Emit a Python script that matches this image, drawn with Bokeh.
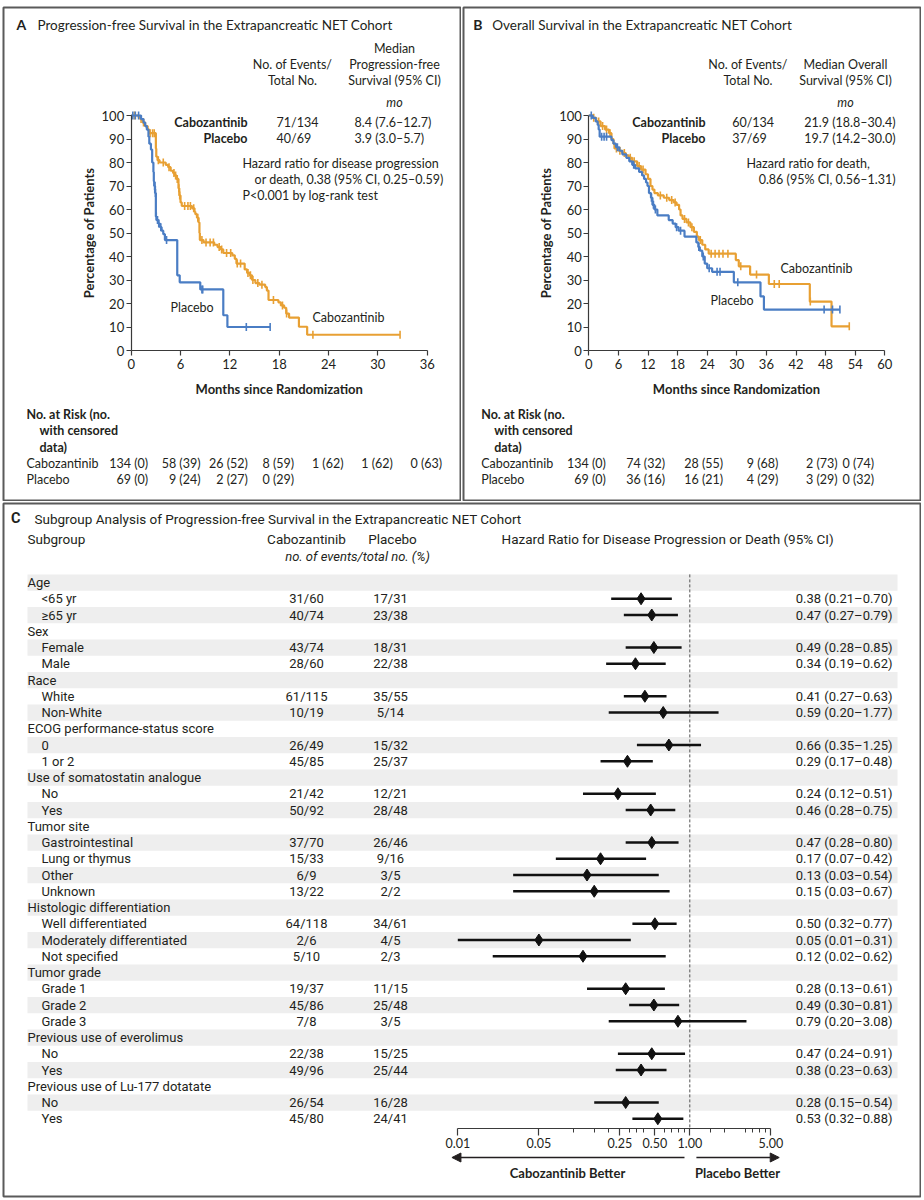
import numpy as np
from bokeh.plotting import figure
from bokeh.models import (Range1d, LinearAxis, LogAxis, FixedTicker, LinearScale,
                          PrintfTickFormatter, Arrow, NormalHead)
from bokeh.layouts import row, column
from bokeh.core.properties import value
from bokeh.embed import file_html
from bokeh.resources import INLINE

# ---------------- Panel A data: progression-free survival (Kaplan-Meier) ----------------
pfs_cabo_t = [0, 0.9, 1.1, 1.4, 1.7, 2.0, 2.2, 3.0, 3.05, 3.2, 3.45, 4.2, 4.5, 4.8, 5.1, 5.3, 5.5,
              5.75, 5.85, 6.0, 6.15, 7.4, 7.7, 7.8, 8.0, 8.2, 8.3, 8.35, 8.8, 10.1, 10.5, 10.9,
              11.2, 12.3, 12.6, 12.8, 13.8, 14.1, 14.4, 14.7, 15.1, 15.6, 16.3, 16.5, 16.7, 17.9,
              18.2, 18.6, 18.85, 19.2, 20.4, 21.4, 32.7]
pfs_cabo_s = [100, 99.3, 98.5, 97.0, 95.5, 94.0, 92.5, 86.0, 82.5, 81.0, 80.0, 79.0, 78.0, 76.5,
              75.5, 74.5, 73.0, 69.0, 66.0, 63.0, 61.5, 60.5, 59.0, 58.0, 56.5, 54.5, 50.0, 47.0,
              46.0, 45.0, 44.0, 43.0, 41.5, 40.5, 39.0, 37.0, 34.5, 33.0, 32.0, 30.0, 28.7, 28.0,
              27.0, 25.5, 21.5, 20.5, 19.2, 18.2, 15.7, 14.0, 10.1, 6.7, 6.7]
pfs_cabo_cens = [0.4, 1.2, 1.5, 2.3, 2.6, 2.8, 3.3, 3.9, 4.6, 5.2, 5.4, 5.6, 5.8, 5.9, 6.5, 6.9,
                 7.2, 7.6, 8.1, 8.6, 9.1, 9.6, 10.0, 10.7, 11.0, 11.6, 12.1, 12.9, 13.3, 14.2,
                 14.5, 14.8, 15.4, 15.9, 17.3, 18.4, 18.9, 22.1, 32.7]
pfs_plac_t = [0, 1.2, 1.5, 1.7, 1.9, 2.1, 2.2, 2.4, 2.55, 2.7, 2.75, 2.8, 2.9, 3.0, 3.1, 3.3, 3.5,
              3.7, 3.9, 4.1, 5.6, 5.9, 8.4, 11.2, 11.7, 16.9]
pfs_plac_s = [100, 98.5, 97.0, 95.5, 94.0, 91.0, 88.0, 85.5, 80.0, 76.0, 72.0, 70.0, 67.0, 57.0,
              55.5, 54.0, 52.5, 51.0, 49.5, 47.0, 32.0, 29.0, 26.0, 15.0, 10.0, 10.0]
pfs_plac_cens = [0.2, 0.5, 0.9, 2.85, 2.87, 2.95, 3.05, 3.2, 3.35, 3.6, 4.3, 8.6, 8.7, 14.0, 16.9]
pfs_risk_months = [0, 6, 12, 18, 24, 30, 36]
pfs_risk_cabo = ["134 (0)", "58 (39)", "26 (52)", "8 (59)", "1 (62)", "1 (62)", "0 (63)"]
pfs_risk_plac = ["69 (0)", "9 (24)", "2 (27)", "0 (29)"]
pfs_events = ["71/134", "40/69"]
pfs_median = ["8.4 (7.6\u201312.7)", "3.9 (3.0\u20135.7)"]

# ---------------- Panel B data: overall survival (Kaplan-Meier) ----------------
os_cabo_t = [0, 0.8, 1.5, 2.4, 3.3, 4.1, 4.6, 5.0, 5.2, 6.0, 6.8, 7.5, 8.1, 8.8, 9.8, 10.6, 11.5,
             12.0, 12.5, 12.9, 13.3, 14.0, 15.2, 16.3, 17.2, 17.8, 18.3, 18.6, 19.0, 19.8, 20.6,
             21.3, 21.9, 22.3, 23.0, 23.6, 24.3, 29.8, 30.4, 32.7, 36.5, 44.8, 49.2, 52.8]
os_cabo_s = [100, 99, 97.5, 95.5, 94, 92.5, 90, 88, 86, 85, 84, 83, 82, 80.5, 78.5, 77, 75, 73, 70,
             68.5, 67, 66, 65, 64, 63, 62, 60, 57.5, 56, 54.5, 52.5, 50.5, 48.5, 47, 45, 43, 41.2,
             38.5, 35.8, 32.3, 28.3, 20.8, 10.3, 10.3]
os_cabo_cens = [1.0, 2.0, 2.8, 3.6, 4.3, 5.6, 6.3, 7.2, 8.4, 9.2, 10.2, 11.0, 14.5, 15.8, 16.8,
                17.5, 19.4, 20.2, 20.9, 22.6, 24.8, 25.6, 26.4, 27.2, 28.2, 30.8, 34.0, 37.6,
                38.6, 44.9, 52.8]
os_plac_t = [0, 0.8, 1.4, 1.8, 2.0, 2.2, 4.6, 5.0, 5.5, 6.2, 6.8, 7.6, 8.2, 8.8, 9.4, 10.2, 10.8,
             11.2, 11.6, 11.9, 12.2, 12.6, 12.9, 13.3, 13.9, 16.2, 17.0, 17.6, 18.2, 19.4, 21.8,
             22.2, 22.5, 23.0, 23.5, 24.0, 25.0, 29.4, 34.8, 35.5, 50.9]
os_plac_s = [100, 99, 97.5, 96, 94, 91, 89.5, 88, 86.5, 85, 83.5, 82, 80.5, 79, 77.5, 76, 74.5, 73,
             71.5, 70, 67, 65, 62, 60, 57.5, 55.5, 54, 52.5, 51, 48.5, 46, 44, 42.5, 40, 37, 35,
             33.5, 29, 23, 17.4, 17.4]
os_plac_cens = [0.5, 2.6, 3.1, 3.6, 5.8, 9.1, 12.7, 13.1, 13.5, 17.8, 18.6, 22.3, 23.2, 24.4,
                26.0, 26.6, 30.2, 47.7, 49.4, 50.9]
os_risk_months = [0, 12, 24, 36, 48, 54]
os_risk_cabo = ["134 (0)", "74 (32)", "28 (55)", "9 (68)", "2 (73)", "0 (74)"]
os_risk_plac = ["69 (0)", "36 (16)", "16 (21)", "4 (29)", "3 (29)", "0 (32)"]
os_events = ["60/134", "37/69"]
os_median = ["21.9 (18.8\u201330.4)", "19.7 (14.2\u201330.0)"]

arm_names = ["Cabozantinib", "Placebo"]
pct_ticks = [0, 10, 20, 30, 40, 50, 60, 70, 80, 90, 100]

# ---------------- Panel C data: subgroup forest plot ----------------
sub_labels = ["Age", "<65 yr", "\u226565 yr", "Sex", "Female", "Male", "Race", "White", "Non-White",
              "ECOG performance-status score", "0", "1 or 2", "Use of somatostatin analogue", "No",
              "Yes", "Tumor site", "Gastrointestinal", "Lung or thymus", "Other", "Unknown",
              "Histologic differentiation", "Well differentiated", "Moderately differentiated",
              "Not specified", "Tumor grade", "Grade 1", "Grade 2", "Grade 3",
              "Previous use of everolimus", "No", "Yes", "Previous use of Lu-177 dotatate", "No", "Yes"]
sub_is_header = [True, False, False, True, False, False, True, False, False, True, False, False,
                 True, False, False, True, False, False, False, False, True, False, False, False,
                 True, False, False, False, True, False, False, True, False, False]
cabo_events = ["", "31/60", "40/74", "", "43/74", "28/60", "", "61/115", "10/19", "", "26/49",
               "45/85", "", "21/42", "50/92", "", "37/70", "15/33", "6/9", "13/22", "", "64/118",
               "2/6", "5/10", "", "19/37", "45/86", "7/8", "", "22/38", "49/96", "", "26/54", "45/80"]
plac_events = ["", "17/31", "23/38", "", "18/31", "22/38", "", "35/55", "5/14", "", "15/32",
               "25/37", "", "12/21", "28/48", "", "26/46", "9/16", "3/5", "2/2", "", "34/61", "4/5",
               "2/3", "", "11/15", "25/48", "3/5", "", "15/25", "25/44", "", "16/28", "24/41"]
hr = [None, 0.38, 0.47, None, 0.49, 0.34, None, 0.41, 0.59, None, 0.66, 0.29, None, 0.24, 0.46,
      None, 0.47, 0.17, 0.13, 0.15, None, 0.50, 0.05, 0.12, None, 0.28, 0.49, 0.79, None, 0.47,
      0.38, None, 0.28, 0.53]
hr_lo = [None, 0.21, 0.27, None, 0.28, 0.19, None, 0.27, 0.20, None, 0.35, 0.17, None, 0.12, 0.28,
         None, 0.28, 0.07, 0.03, 0.03, None, 0.32, 0.01, 0.02, None, 0.13, 0.30, 0.20, None, 0.24,
         0.23, None, 0.15, 0.32]
hr_hi = [None, 0.70, 0.79, None, 0.85, 0.62, None, 0.63, 1.77, None, 1.25, 0.48, None, 0.51, 0.75,
         None, 0.80, 0.42, 0.54, 0.67, None, 0.77, 0.31, 0.62, None, 0.61, 0.81, 3.08, None, 0.91,
         0.63, None, 0.54, 0.88]
hr_major_ticks = [0.01, 0.05, 0.25, 0.50, 1.00, 5.00]
hr_minor_ticks = [0.1, 0.15, 0.2, 0.3, 0.35, 0.4, 0.6, 0.7, 0.8, 0.9, 1.5, 2, 3, 3.5, 4, 4.5]

# ---------------- styles ----------------
LATO = value("Lato")
COND = value("Roboto")
INK = "#231f20"
AX = "#3a3a3a"
BORDER = "#5a5a5a"
ORANGE = "#e8a033"
BLUE = "#4a7dc4"
BAND = "#eeeeee"


def seq(v, n):
    return list(v) if isinstance(v, (list, tuple, np.ndarray)) else [v] * n


def put(p, x, y, t, size="12.5px", align="left", style="normal", font=LATO, color=INK,
        angle=0.0, xr="px", yr="px", x_offset=0):
    n = len(t)
    p.text(x=seq(x, n), y=seq(y, n), text=list(t), text_font=font, text_font_size=size,
           text_align=align, text_baseline="middle", text_font_style=style, text_color=color,
           angle=angle, x_offset=seq(x_offset, n), x_range_name=xr, y_range_name=yr)


def surv_at(ts, ss, cs):
    idx = np.searchsorted(np.asarray(ts), np.asarray(cs), side="right") - 1
    return np.asarray(ss)[idx]


def make_fig(W, H, ox, oy, frame, xr, yr, **kw):
    fx0, fy0, fx1, fy1 = frame
    p = figure(width=W, height=H, x_range=xr, y_range=yr, output_backend="svg",
               toolbar_location=None, x_axis_location=None, y_axis_location=None,
               min_border_left=fx0 - ox, min_border_right=ox + W - fx1,
               min_border_top=fy0 - oy, min_border_bottom=oy + H - fy1,
               outline_line_color=BORDER, outline_line_width=2,
               background_fill_color="white", border_fill_color="white", **kw)
    p.grid.visible = False
    p.extra_x_ranges = {"px": Range1d(fx0, fx1)}
    p.extra_y_ranges = {"px": Range1d(fy1, fy0)}
    return p


# page-pixel geometry of the KM axes (0 % and 100 % lines)
KM_Y0, KM_Y100 = 350.0, 115.0


def km_panel(W, H, ox, oy, frame, t0px, ppm, tmax, tstep):
    fx0, fy0, fx1, fy1 = frame
    pps = (KM_Y0 - KM_Y100) / 100.0
    xr = Range1d((fx0 - t0px) / ppm, (fx1 - t0px) / ppm)
    yr = Range1d((KM_Y0 - fy1) / pps, (KM_Y0 - fy0) / pps)
    p = make_fig(W, H, ox, oy, frame, xr, yr)
    axkw = dict(axis_line_color=AX, axis_line_width=1.2, major_tick_line_color=AX,
                major_tick_line_width=1.2, major_tick_in=0, minor_tick_in=0, minor_tick_out=0,
                major_label_text_font="Lato", major_label_text_font_size="13px",
                major_label_text_color=INK)
    ya = LinearAxis(fixed_location=0, bounds=(0, 100), ticker=FixedTicker(ticks=pct_ticks),
                    major_tick_out=5, major_label_standoff=2, **axkw)
    p.add_layout(ya, "left")
    xa = LinearAxis(fixed_location=0, bounds=(0, tmax),
                    ticker=FixedTicker(ticks=list(range(0, tmax + 1, tstep))),
                    major_tick_out=5, major_label_standoff=3, **axkw)
    p.add_layout(xa, "below")
    return p


def draw_curve(p, t, s, cens, color):
    p.step(x=t, y=s, mode="after", line_color=color, line_width=2.2)
    p.scatter(x=cens, y=surv_at(t, s, cens), marker="dash", angle=np.pi / 2, size=8,
              line_color=color, line_width=1.6)


def risk_table(p, months, cabo, plac, xlab, offs):
    put(p, xlab, 414, ["No. at Risk (no."], style="bold")
    put(p, xlab + 13, 430, ["with censored"], style="bold")
    put(p, xlab + 13, 446.5, ["data)"], style="bold")
    put(p, xlab, 462.5, ["Cabozantinib"])
    put(p, xlab, 478.5, ["Placebo"])
    put(p, months[:len(cabo)], 462.5, cabo, align="right", xr="default", x_offset=offs[:len(cabo)])
    put(p, months[:len(plac)], 478.5, plac, align="right", xr="default", x_offset=offs[:len(plac)])


# ---------------- Panel A ----------------
pA = km_panel(461, 501, 0, 0, (3, 7, 460, 500), t0px=130.7, ppm=296.0 / 36, tmax=36, tstep=6)
draw_curve(pA, pfs_cabo_t, pfs_cabo_s, pfs_cabo_cens, ORANGE)
draw_curve(pA, pfs_plac_t, pfs_plac_s, pfs_plac_cens, BLUE)
put(pA, 16, 24, ["A"], size="14px", style="bold")
put(pA, 37, 24, ["Progression-free Survival in the Extrapancreatic NET Cohort"], size="13.5px")
put(pA, 394, 48, ["Median"], align="center")
put(pA, 292, [64, 80], ["No. of Events/", "Total No."], align="center")
put(pA, 394, [64, 80], ["Progression-free", "Survival (95% CI)"], align="center")
put(pA, 394, 102, ["mo"], style="italic", align="center")
put(pA, 247, [122, 138], arm_names, align="right", style="bold")
put(pA, 276, [122, 138], pfs_events)
put(pA, 354, [122, 138], pfs_median)
put(pA, 242, 163, ["Hazard ratio for disease progression"])
put(pA, 443, 179, ["or death, 0.38 (95% CI, 0.25\u20130.59)"], align="right")
put(pA, 242, 195, ["P<0.001 by log-rank test"])
put(pA, 88, 232.5, ["Percentage of Patients"], angle=np.pi / 2, align="center", style="bold",
    size="13px")
put(pA, 278.7, 388, ["Months since Randomization"], align="center", style="bold", size="13px")
put(pA, 170, 307, ["Placebo"])
put(pA, 312, 317, ["Cabozantinib"])
risk_table(pA, pfs_risk_months, pfs_risk_cabo, pfs_risk_plac, 26, [17, 20, 18, 15, 15, 15, 15])

# ---------------- Panel B ----------------
pB = km_panel(460, 501, 461, 0, (463, 7, 920, 500), t0px=588.3, ppm=296.0 / 60, tmax=60,
              tstep=6)
draw_curve(pB, os_cabo_t, os_cabo_s, os_cabo_cens, ORANGE)
draw_curve(pB, os_plac_t, os_plac_s, os_plac_cens, BLUE)
put(pB, 472.7, 24, ["B"], size="14px", style="bold")
put(pB, 491.7, 24, ["Overall Survival in the Extrapancreatic NET Cohort"], size="13.5px")
put(pB, 747.5, [64, 80], ["No. of Events/", "Total No."], align="center")
put(pB, 845, [64, 80], ["Median Overall", "Survival (95% CI)"], align="center")
put(pB, 845, 102, ["mo"], style="italic", align="center")
put(pB, 705, [122, 138], arm_names, align="right", style="bold")
put(pB, 731.7, [122, 138], os_events)
put(pB, 895, [122, 138], os_median, align="right")
put(pB, 746, 163, ["Hazard ratio for death,"])
put(pB, 895, 179, ["0.86 (95% CI, 0.56\u20131.31)"], align="right")
put(pB, 545, 232.5, ["Percentage of Patients"], angle=np.pi / 2, align="center", style="bold",
    size="13px")
put(pB, 736, 388, ["Months since Randomization"], align="center", style="bold", size="13px")
put(pB, 780, 268, ["Cabozantinib"])
put(pB, 710, 300, ["Placebo"])
risk_table(pB, os_risk_months, os_risk_cabo, os_risk_plac, 480.7, [17, 17, 16, 12, 12, 19])

# ---------------- Panel C ----------------
FRAME_C = (3, 503, 920, 1196)
HR1_PX, PX_PER_DECADE = 689.3, 116.0
ROW0_PX, ROW_H = 582.0, 16.25
AXIS_PX = 1128.0
COL_CABO, COL_PLAC = 306.0, 390.0
fx0, fy0, fx1, fy1 = FRAME_C
xrC = Range1d(10 ** ((fx0 - HR1_PX) / PX_PER_DECADE), 10 ** ((fx1 - HR1_PX) / PX_PER_DECADE))
yrC = Range1d((fy1 - ROW0_PX) / ROW_H, (fy0 - ROW0_PX) / ROW_H)
pC = make_fig(921, 697, 0, 501, FRAME_C, xrC, yrC, x_axis_type="log")
pC.extra_x_scales = {"px": LinearScale()}

n_rows = len(sub_labels)
rows = list(range(n_rows))
band_rows = [i for i in rows if i % 2 == 0]
pC.rect(x=[(27 + 897) / 2] * len(band_rows), y=band_rows, width=870, height=1,
        fill_color=BAND, line_color=None, x_range_name="px")

axis_row = (AXIS_PX - ROW0_PX) / ROW_H
pC.segment(x0=[1.0], y0=[-0.5], x1=[1.0], y1=[axis_row], line_color="#555555",
           line_width=1, line_dash="3 2")

data_rows = [i for i in rows if hr[i] is not None]
pC.segment(x0=[hr_lo[i] for i in data_rows], y0=data_rows, x1=[hr_hi[i] for i in data_rows],
           y1=data_rows, line_color="#111111", line_width=2.6)
pC.scatter(x=[hr[i] for i in data_rows], y=data_rows, marker="diamond", size=12,
           fill_color="#111111", line_color="#111111")

xaC = LogAxis(fixed_location=axis_row, bounds=(hr_major_ticks[0], hr_major_ticks[-1]),
              ticker=FixedTicker(ticks=hr_major_ticks, minor_ticks=hr_minor_ticks),
              formatter=PrintfTickFormatter(format="%.2f"),
              axis_line_color=AX, axis_line_width=1.2, major_tick_line_color=AX,
              minor_tick_line_color=AX, major_tick_line_width=1.2, minor_tick_line_width=1,
              major_tick_in=0, major_tick_out=7, minor_tick_in=0, minor_tick_out=4,
              major_label_standoff=2, major_label_text_font="Lato",
              major_label_text_font_size="12.5px", major_label_text_color=INK)
pC.add_layout(xaC, "below")

pC.add_layout(Arrow(x_start=0.9, y_start=1157, x_end=0.0089, y_end=1157, y_range_name="px",
                    line_color=INK, line_width=1.3,
                    end=NormalHead(size=9, fill_color=INK, line_color=INK, line_width=1)))
pC.add_layout(Arrow(x_start=1.14, y_start=1157, x_end=5.9, y_end=1157, y_range_name="px",
                    line_color=INK, line_width=1.3,
                    end=NormalHead(size=9, fill_color=INK, line_color=INK, line_width=1)))
put(pC, 567, 1172, ["Cabozantinib Better"], align="center", style="bold", size="13px")
put(pC, 737, 1172, ["Placebo Better"], align="center", style="bold", size="13px")

put(pC, 10.6, 518, ["C"], size="14.5px", style="bold", font=COND)
put(pC, 34, 518,
    ["Subgroup Analysis of Progression-free Survival in the Extrapancreatic NET Cohort"],
    size="13.5px", font=COND)
put(pC, 27, 538, ["Subgroup"], size="13.5px", font=COND)
put(pC, COL_CABO, 538, ["Cabozantinib"], size="13.5px", font=COND, align="center")
put(pC, COL_PLAC + 2, 538, ["Placebo"], size="13.5px", font=COND, align="center")
put(pC, 357, 556, ["no. of events/total no. (%)"], size="13px", font=COND, style="italic",
    align="center")
put(pC, 501, 538, ["Hazard Ratio for Disease Progression or Death  (95% CI)"], size="13.5px",
    font=COND)

label_x = [27 if h else 41 for h in sub_is_header]
put(pC, label_x, rows, sub_labels, size="13px", font=COND, yr="default")
put(pC, COL_CABO, data_rows, [cabo_events[i] for i in data_rows], size="13px", font=COND,
    yr="default", align="center")
put(pC, COL_PLAC, data_rows, [plac_events[i] for i in data_rows], size="13px", font=COND,
    yr="default", align="center")
hr_text = [f"{hr[i]:.2f} ({hr_lo[i]:.2f}\u2013{hr_hi[i]:.2f})" for i in data_rows]
put(pC, 892, data_rows, hr_text, size="13px", font=COND, yr="default", align="right")

layout = column(row(pA, pB, spacing=0), pC, spacing=0)
open("out.html", "w").write(file_html(layout, INLINE))
